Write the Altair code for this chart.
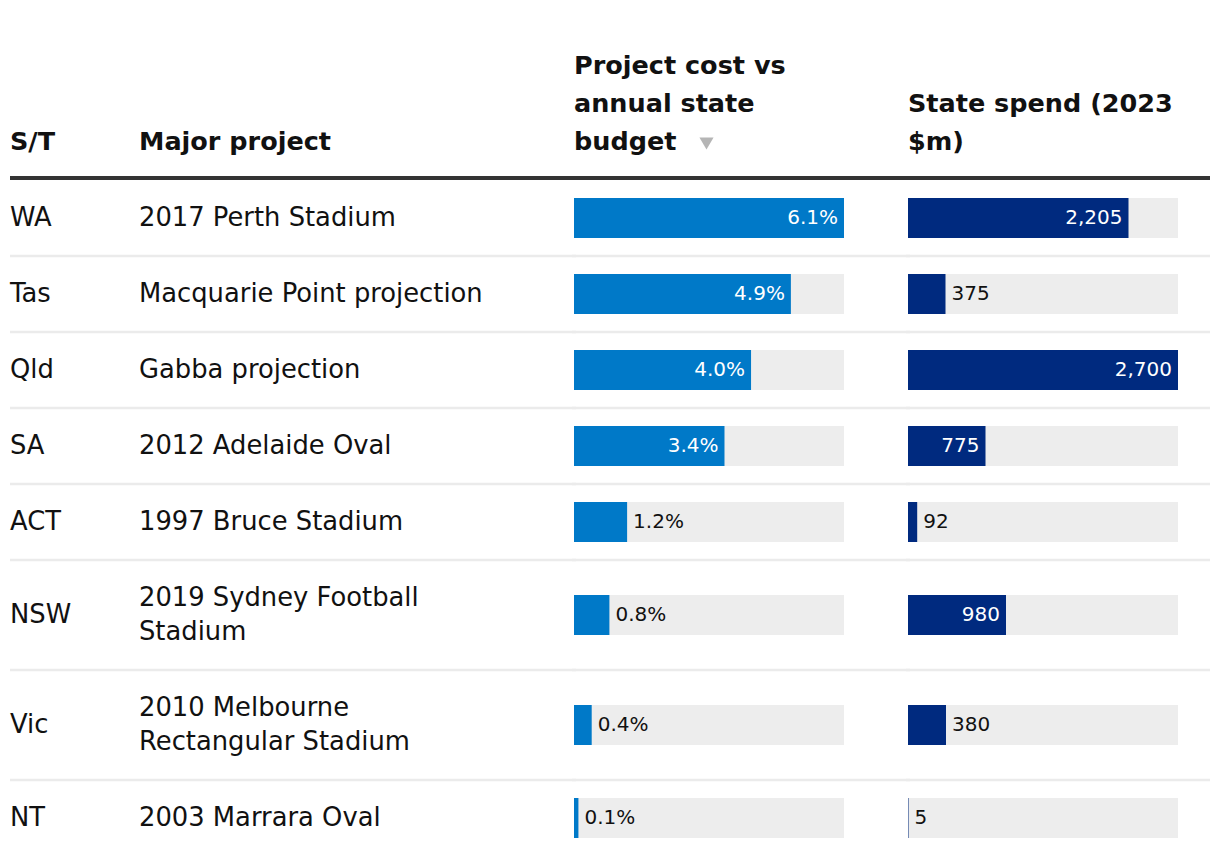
import altair as alt
import pandas as pd

# ---- data ----
states = ["WA", "Tas", "Qld", "SA", "ACT", "NSW", "Vic", "NT"]
projects = [
    "2017 Perth Stadium",
    "Macquarie Point projection",
    "Gabba projection",
    "2012 Adelaide Oval",
    "1997 Bruce Stadium",
    "2019 Sydney Football\nStadium",
    "2010 Melbourne\nRectangular Stadium",
    "2003 Marrara Oval",
]
budget_share = [6.1, 4.9, 4.0, 3.4, 1.2, 0.8, 0.4, 0.1]
state_spend = [2205, 375, 2700, 775, 92, 980, 380, 5]

col_headers = ["S/T", "Major project"]
budget_header = ["Project cost vs", "annual state", "budget"]
spend_header = ["State spend (2023", "$m)"]

# ---- layout / style ----
FONT = "DejaVu Sans"
H = 850
HEADER_RULE_Y = 170
ROW_START = 172
ROW_H1 = 76
ROW_EXTRA = 34
LINE_H = 33.5
BAR_H = 40
BAR_W = 270
W_A, W_B, W_C = 566, 334, 304
BUDGET_COLOR = "#0079c8"
SPEND_COLOR = "#002a7f"
TRACK = "#ededed"
SEP = "#ebebeb"
TEXT = "#111111"
HEAD_SIZE = 25.5
BODY_SIZE = 25.8
LABEL_SIZE = 20

rows = []
lines = []
top = ROW_START
n_rows = len(states)
bmax = max(budget_share)
smax = max(state_spend)
for i, (s, p, b, v) in enumerate(zip(states, projects, budget_share, state_spend)):
    parts = p.split("\n")
    n_lines = len(parts)
    h = ROW_H1 + ROW_EXTRA * (n_lines - 1)
    yc = top + h / 2
    rows.append(dict(
        st=s, pct=b, spend=v, zero=0, bmax=bmax, smax=smax,
        yc=yc, ytop=yc - BAR_H / 2, ybot=yc + BAR_H / 2, sep=top + h,
        last=(i == n_rows - 1),
        pin=(b / bmax >= 0.25), sin=(v / smax >= 0.25),
        plabel=f"{b:.1f}%", slabel=f"{v:,}",
    ))
    for k, part in enumerate(parts):
        lines.append(dict(t=part, y=yc + (k - (n_lines - 1) / 2) * LINE_H))
    top += h
df = pd.DataFrame(rows)
lines_df = pd.DataFrame(lines)
seps = df[~df["last"]]

ys = alt.Scale(domain=[0, H], reverse=True, nice=False, zero=False)


def Y(f):
    return alt.Y(f, type="quantitative", scale=ys, axis=None)


head_rule_df = pd.DataFrame({"y": [HEADER_RULE_Y]})


def rules(x0, x1):
    hr = alt.Chart(head_rule_df).mark_rule(color="#333333", strokeWidth=4).encode(
        y=Y("y"), x=alt.value(x0), x2=alt.value(x1))
    sr = alt.Chart(seps).mark_rule(color=SEP, strokeWidth=2.5).encode(
        y=Y("sep"), x=alt.value(x0), x2=alt.value(x1))
    return [hr, sr]


def header_text(hlines, x, last_y=134, lh=38):
    n = len(hlines)
    hdf = pd.DataFrame({"t": hlines, "y": [last_y - lh * (n - 1 - k) for k in range(n)]})
    return alt.Chart(hdf).mark_text(
        align="left", baseline="middle", font=FONT, fontSize=HEAD_SIZE,
        fontWeight="bold", color=TEXT).encode(x=alt.value(x), y=Y("y"), text="t:N")


# ---- panel A: text columns ----
st_text = alt.Chart(df).mark_text(
    align="left", baseline="middle", font=FONT, fontSize=BODY_SIZE, color=TEXT
).encode(x=alt.value(2), y=Y("yc"), text="st:N")
proj_text = alt.Chart(lines_df).mark_text(
    align="left", baseline="middle", font=FONT, fontSize=BODY_SIZE, color=TEXT
).encode(x=alt.value(131), y=Y("y"), text="t:N")

panel_a = alt.layer(
    *rules(2, W_A + 2), st_text, proj_text,
    header_text([col_headers[0]], 2), header_text([col_headers[1]], 131),
).properties(width=W_A, height=H)


# ---- bar panels ----
def bar_panel(width, value, vmax, maxcol, color, label, inside, header, x1, extra=None):
    xs = alt.Scale(domain=[0, vmax], range=[0, BAR_W], nice=False, zero=True)
    base = alt.Chart(df)
    track = base.mark_rect(color=TRACK).encode(
        x=alt.X("zero:Q", scale=xs, axis=None), x2=f"{maxcol}:Q",
        y=Y("ytop"), y2="ybot:Q")
    bar = base.mark_rect(color=color).encode(
        x=alt.X("zero:Q", scale=xs, axis=None), x2=f"{value}:Q",
        y=Y("ytop"), y2="ybot:Q")
    lab_in = base.transform_filter(f"datum.{inside}").mark_text(
        align="right", baseline="middle", dx=-6, font=FONT, fontSize=LABEL_SIZE, color="white"
    ).encode(x=alt.X(f"{value}:Q", scale=xs, axis=None), y=Y("yc"), text=f"{label}:N")
    lab_out = base.transform_filter(f"!datum.{inside}").mark_text(
        align="left", baseline="middle", dx=6, font=FONT, fontSize=LABEL_SIZE, color=TEXT
    ).encode(x=alt.X(f"{value}:Q", scale=xs, axis=None), y=Y("yc"), text=f"{label}:N")
    layers = rules(-2, x1) + [track, bar, lab_in, lab_out, header_text(header, 0)]
    if extra is not None:
        layers.append(extra)
    return alt.layer(*layers).properties(width=width, height=H)


tri = alt.Chart(pd.DataFrame({"y": [135.5]})).mark_point(
    shape="triangle-down", filled=True, size=200, color="#b5b5b5", opacity=1
).encode(x=alt.value(132.5), y=Y("y"))

panel_b = bar_panel(W_B, "pct", bmax, "bmax", BUDGET_COLOR, "plabel", "pin",
                    budget_header, W_B + 2, tri)
panel_c = bar_panel(W_C, "spend", smax, "smax", SPEND_COLOR, "slabel", "sin",
                    spend_header, W_C - 2)

chart = alt.hconcat(panel_a, panel_b, panel_c, spacing=0, bounds="flush").properties(
    padding=0).configure_view(stroke=None)

chart.save("out.html", embed_options={"renderer": "svg", "actions": False})
